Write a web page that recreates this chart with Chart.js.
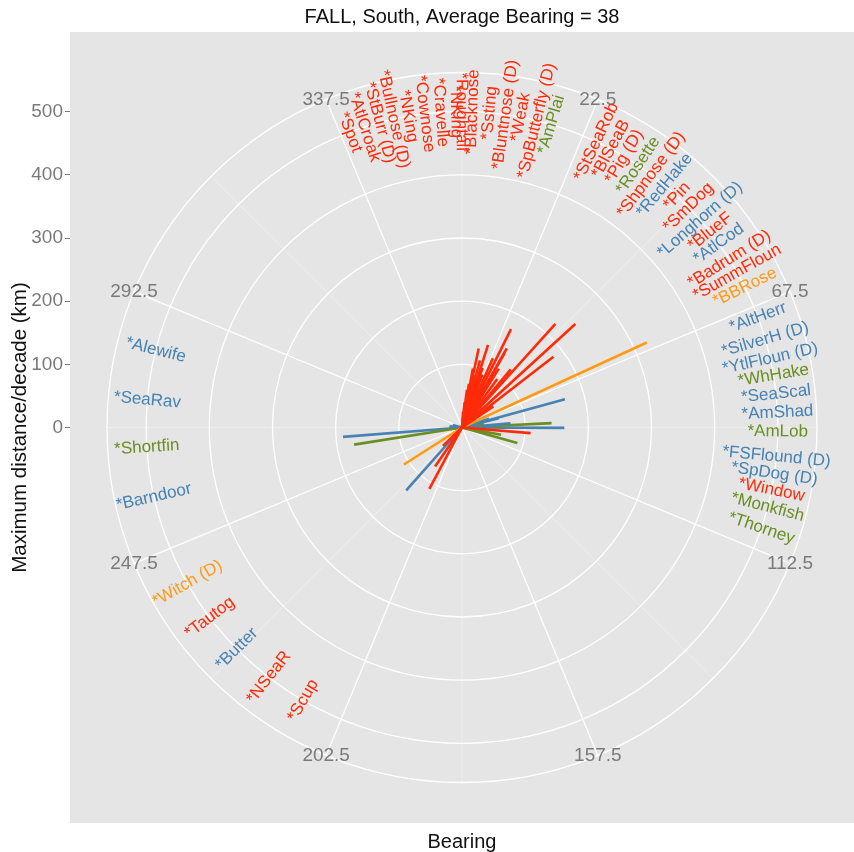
<!DOCTYPE html>
<html>
<head>
<meta charset="utf-8">
<script src="https://cdn.jsdelivr.net/npm/chart.js@4.4.1/dist/chart.umd.min.js"></script>
<style>
  html, body { margin: 0; padding: 0; background: #ffffff; }
  canvas { display: block; }
</style>
</head>
<body>
<canvas id="chart" width="854" height="852"></canvas>
<script>
// ---- data -------------------------------------------------------------
const species = ["*Spot","*AtlCroak","*StBurr (D)","*Bullnose (D)","*NKing","*Cownose","*Cravelle","*NKing",
  "*Roughtail","*Blacknose","*Ssting","*Bluntnose (D)","*Weak","*SpButterfly (D)","*AmPlai",
  "*StSeaRob","*BlSeaB","*Pig (D)","*Rosette","*Shpnose (D)","*RedHake","*Pin","*SmDog","*Longhorn (D)",
  "*BlueF","*AtlCod","*Badrum (D)","*SummFloun","*BBRose",
  "*AltHerr","*SilverH (D)","*YtlFloun (D)","*WhHake","*SeaScal","*AmShad","*AmLob","*FSFlound (D)",
  "*SpDog (D)","*Window","*Monkfish","*Thorney",
  "*Witch (D)","*Tautog","*Butter","*NSeaR","*Scup",
  "*Alewife","*SeaRav","*Shortfin","*Barndoor"];

// species group (1..4)
const speciesGroup = [1,1,1,1,1,1,1,1,1,1,1,1,1,1,3,
  1,1,1,3,1,2,1,1,2,1,2,1,1,4,
  2,2,2,3,2,2,3,2,2,1,3,3,
  4,1,2,1,1,
  2,2,3,2];

// direction of shift (degrees, clockwise from north)
const bearing = [4,6,7.5,9,10.5,11.9,13,15,16,17.5,19,21,24,26.5,28,
  29.5,29.8,32,33.6,36,38,40,42,45,47.6,50,52.3,56,65.3,
  72,74.6,75.7,80,85,86.5,87.2,90.2,92,94.7,100.5,105.6,
  237.5,226,221.6,214.7,208,
  285,275,261,265.5];

// maximum distance per decade (km)
const distance = [25,40,60,70,95,128,85,110,75,137,100,90,120,174,40,
  144,136,110,53,95,30,120,221,25,243,20,183,60,322,
  45,169,60,35,77,50,142,162,40,109,63,91,
  109,42,133,75,110,
  15,20,173,189];

// bearing at which each name is written around the rim
const labelBearing = [339.2,342.0,344.9,347.5,350.2,353.2,356.1,358.9,359.9,1.9,5.0,7.9,10.7,13.7,16.4,
  25.2,28.1,30.9,33.9,36.8,39.9,42.9,45.8,48.9,51.7,54.4,57.8,60.6,63.6,
  69.6,73.8,77.4,80.5,83.9,87.3,90.75,95.3,98.4,101.4,104.6,108.6,
  240.4,233.0,225.5,217.7,210.2,
  284.2,275.0,266.4,257.3];

const thetaBreaks = [22.5,67.5,112.5,157.5,202.5,247.5,292.5,337.5];
const thetaMinor  = [0,45,90,135,180,225,270,315];
const radiusTicks = [0,100,200,300,400,500];
const labelRadius = 500;   // km, ring where names are written
const rimRadius   = 562;   // km, outer boundary of the polar panel

// ---- styles -----------------------------------------------------------
const groupColor = {1: "#FF2A08", 2: "#4682B4", 3: "#6B8E23", 4: "#FF9A14"};
const FONT = "'Liberation Sans', Arial, Helvetica, sans-serif";
const GREY_TEXT = "#7A7A7A";
Chart.defaults.font.family = FONT;

const rad = d => d * Math.PI / 180;

function toXY(b, km) {
  return { x: km * Math.sin(rad(b)), y: km * Math.cos(rad(b)) };
}

function pixel(chart, b, km) {
  const p = toXY(b, km);
  return { x: chart.scales.x.getPixelForValue(p.x), y: chart.scales.y.getPixelForValue(p.y) };
}

function pxRadius(chart, km) {
  const xs = chart.scales.x;
  return xs.getPixelForValue(km) - xs.getPixelForValue(0);
}

// one segment per species, from the origin out to (bearing, distance)
const datasets = species.map((name, i) => ({
  label: name,
  data: [{x: 0, y: 0}, toXY(bearing[i], distance[i])],
  showLine: true,
  borderColor: groupColor[speciesGroup[i]],
  backgroundColor: groupColor[speciesGroup[i]],
  borderWidth: 2.6,
  pointRadius: 0,
  borderCapStyle: "butt",
  order: speciesGroup[i] === 1 ? 0 : 1
}));

// polar panel: grey area, rings, spokes and bearing labels
const polarPanel = {
  id: "polarPanel",
  beforeDatasetsDraw(chart) {
    const {ctx, chartArea: a} = chart;
    ctx.save();
    ctx.fillStyle = "#E5E5E5";
    ctx.fillRect(a.left, a.top, a.right - a.left, a.bottom - a.top);

    const c = pixel(chart, 0, 0);

    // minor spokes (faint)
    ctx.strokeStyle = "rgba(255,255,255,0.55)";
    ctx.lineWidth = 0.6;
    thetaMinor.forEach(t => {
      const p = pixel(chart, t, rimRadius);
      ctx.beginPath(); ctx.moveTo(c.x, c.y); ctx.lineTo(p.x, p.y); ctx.stroke();
    });
    // major spokes
    ctx.strokeStyle = "#FFFFFF";
    ctx.lineWidth = 1.3;
    thetaBreaks.forEach(t => {
      const p = pixel(chart, t, rimRadius);
      ctx.beginPath(); ctx.moveTo(c.x, c.y); ctx.lineTo(p.x, p.y); ctx.stroke();
    });
    // rings
    radiusTicks.filter(r => r > 0).concat([rimRadius]).forEach(r => {
      ctx.beginPath();
      ctx.arc(c.x, c.y, pxRadius(chart, r), 0, Math.PI * 2);
      ctx.stroke();
    });

    // bearing labels on the rim
    ctx.fillStyle = GREY_TEXT;
    ctx.font = "19px " + FONT;
    ctx.textAlign = "center";
    ctx.textBaseline = "middle";
    thetaBreaks.forEach(t => {
      const p = pixel(chart, t, rimRadius);
      ctx.fillText(String(t), p.x, p.y);
    });
    ctx.restore();
  },
  afterDatasetsDraw(chart) {
    const {ctx} = chart;
    ctx.save();
    ctx.font = "17px " + FONT;
    ctx.textAlign = "center";
    ctx.textBaseline = "middle";
    species.forEach((name, i) => {
      const b = labelBearing[i];
      const p = pixel(chart, b, labelRadius);
      const rot = b < 180 ? b - 90 : b - 270;
      ctx.save();
      ctx.translate(p.x, p.y);
      ctx.rotate(rad(rot));
      ctx.fillStyle = groupColor[speciesGroup[i]];
      ctx.fillText(name, 0, 0);
      ctx.restore();
    });
    ctx.restore();
  }
};

new Chart(document.getElementById("chart"), {
  type: "scatter",
  data: { datasets },
  options: {
    responsive: false,
    animation: false,
    devicePixelRatio: 1,
    layout: { padding: 0 },
    plugins: {
      legend: { display: false },
      tooltip: { enabled: false },
      title: {
        display: true,
        text: "FALL, South, Average Bearing = 38",
        fullSize: false,
        color: "#111111",
        font: { size: 20, weight: "normal", lineHeight: 1.2 },
        padding: { top: 5, bottom: 3 }
      }
    },
    scales: {
      x: {
        type: "linear",
        min: -620.6,
        max: 620.6,
        grid: { display: false },
        border: { display: false },
        ticks: { display: false },
        title: {
          display: true,
          text: "Bearing",
          color: "#111111",
          font: { size: 20, lineHeight: 1.0 },
          padding: { top: 0, bottom: 0 }
        },
        afterFit(s) { s.height = 29; }
      },
      y: {
        type: "linear",
        position: "left",
        min: -626.2,
        max: 626.2,
        afterBuildTicks(s) { s.ticks = radiusTicks.map(v => ({ value: v })); },
        grid: {
          display: true,
          drawOnChartArea: false,
          drawTicks: true,
          tickLength: 5,
          tickWidth: 1,
          color: GREY_TEXT
        },
        border: { display: false },
        ticks: {
          color: GREY_TEXT,
          font: { size: 19 },
          padding: 2,
          autoSkip: false
        },
        title: {
          display: true,
          text: "Maximum distance/decade (km)",
          color: "#111111",
          font: { size: 20.5, lineHeight: 1.0 },
          padding: { top: 10, bottom: 0 }
        },
        afterFit(s) { s.width = 70; }
      }
    }
  },
  plugins: [polarPanel]
});
</script>
</body>
</html>
